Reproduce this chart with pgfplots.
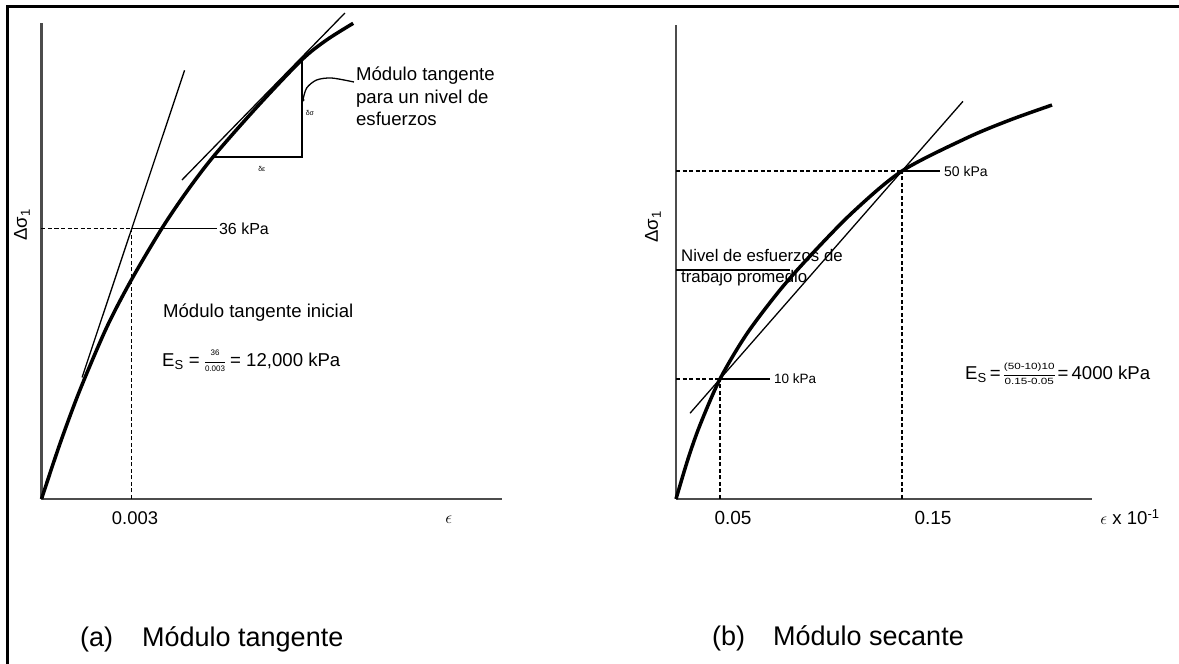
\documentclass[border=0pt]{standalone}
\usepackage{fontspec}
\setmainfont{Liberation Sans}
\usepackage{graphicx}
\usepackage{pgfplots}
\pgfplotsset{compat=1.18}

\newcommand\fs[1]{\fontsize{#1}{#1}\selectfont}
\newcommand\smallfrac[4]{\ensuremath{\vcenter{\offinterlineskip\fs{#3}\halign{\hfil##\hfil\cr\strut #1\cr\noalign{\kern#4\hrule height0.6pt\kern#4}\strut #2\cr}}}}

\pgfplotsset{
  base/.style={scale only axis, axis lines=left,
    axis line style={-, line width=2.6pt, black!70},
    xtick=\empty, ytick=\empty, clip=false, anchor=south west},
  curve/.style={black, line width=3.5pt, smooth},
  thinl/.style={black, line width=1.3pt},
  dashl/.style={black, line width=1.3pt, dash pattern=on 4pt off 2.5pt},
}

\pgfplotstableread{
x y
0 0
0.000615 7.37
0.001281 14.54
0.002169 22.86
0.003 29.26
0.003998 36.0
0.004829 40.93
0.005714 45.59
0.007158 52.17
0.008654 58.47
0.009486 61.14
0.01037 63.36
}\curveA

\pgfplotstableread{
x y
0.02582 -13.08
0.03242 -5.38
0.03901 1.15
0.05 10
0.06467 18.65
0.08297 27.12
0.1000 33.85
0.12308 42.12
0.15 50
0.18555 56.35
0.20934 59.81
0.23242 62.69
}\curveB

\begin{document}
\begin{tikzpicture}[x=1pt,y=1pt]
\useasboundingbox (0,0) rectangle (1179,664);
\draw[line width=3pt, black] (7,0) -- (7,657) -- (1179,657);

% ---------------- (a) Modulo tangente ----------------
\begin{axis}[base, at={(41.5pt,165pt)}, width=460.5pt, height=476pt,
  xmin=0, xmax=0.01532, ymin=0, ymax=63.4]
  \addplot[curve] table {\curveA};
  % initial tangent
  \addplot[thinl] coordinates {(0.00135,16.2) (0.00476,57.1)};
  % tangent at a stress level
  \addplot[thinl] coordinates {(0.004673,42.49) (0.010094,64.73)};
  % triangle
  \addplot[thinl] coordinates {(0.005704,45.55) (0.008664,45.55) (0.008664,58.3)};
  % 36 kPa
  \addplot[dashl] coordinates {(0,36) (0.003,36)};
  \addplot[thinl] coordinates {(0.003,36) (0.005837,36)};
  \addplot[dashl] coordinates {(0.003,0) (0.003,36)};
  % pointer
  \addplot[black, line width=1.3pt, smooth] coordinates {(0.010394,55.54) (0.009653,56.07) (0.009154,55.81) (0.008821,54.74) (0.008697,53.14)};
  \addplot[black, only marks, mark=*, mark size=1.5pt] coordinates {(0.008697,53.14)};

  \node[anchor=west, inner sep=0, font=\fs{16}] at (axis cs:0.00590,36) {36 kPa};
  \node[anchor=west, inner sep=0, font=\fs{18.6}] at (axis cs:0.00404,24.77) {Módulo tangente inicial};
  \node[anchor=west, inner sep=0, font=\fs{18.6}] at (axis cs:0.00401,18.25) {E\textsubscript{S} = \smallfrac{36}{0.003}{8}{3.3pt} = 12,000 kPa};
  \node[anchor=north west, inner sep=0, align=left, font=\fs{18.6}] at (axis cs:0.01046,57.6)
     {Módulo tangente\\[4pt]para un nivel de\\[4pt]esfuerzos};
  \node[inner sep=0, font=\fs{7}] at (axis cs:0.00733,44.0) {δε};
  \node[inner sep=0, font=\fs{7}] at (axis cs:0.00893,51.4) {δσ};
  \node[inner sep=0, font=\fs{18.4}] at (axis cs:0.00311,-2.53) {0.003};
  \node[inner sep=0, font=\fs{18.6}] at (axis cs:0.01355,-2.8) {$\epsilon$};
  \node[inner sep=0, rotate=90, font=\fs{18.6}] at (axis cs:-0.000649,36.49) {Δσ\textsubscript{1}};
  \node[anchor=base west, inner sep=0, font=\fs{27}] at (axis cs:0.00128,-19.58) {(a)};
  \node[anchor=base west, inner sep=0, font=\fs{27}] at (axis cs:0.003343,-19.58) {Módulo tangente};
\end{axis}

% ---------------- (b) Modulo secante ----------------
\begin{axis}[base, at={(676pt,165pt)}, width=416pt, height=474pt,
  xmin=0.02582, xmax=0.2544, ymin=-13.08, ymax=78.08]
  \addplot[curve] table {\curveB};
  % secant
  \addplot[thinl] coordinates {(0.03352,3.41) (0.1835,63.4)};
  % 50 kPa
  \addplot[dashl] coordinates {(0.02582,50) (0.15,50)};
  \addplot[thinl] coordinates {(0.15,50) (0.17088,50)};
  \addplot[dashl] coordinates {(0.15,-13.08) (0.15,50)};
  % 10 kPa
  \addplot[dashl] coordinates {(0.02582,10) (0.05,10)};
  \addplot[thinl] coordinates {(0.05,10) (0.07747,10)};
  \addplot[dashl] coordinates {(0.05,-13.08) (0.05,10)};
  % average working stress level
  \addplot[thinl] coordinates {(0.02582,30.96) (0.08846,30.96)};

  \node[anchor=west, inner sep=0, font=\fs{14}] at (axis cs:0.17308,50) {50 kPa};
  \node[anchor=west, inner sep=0, font=\fs{13.5}] at (axis cs:0.07967,10) {10 kPa};
  \node[anchor=north west, inner sep=0, align=left, font=\fs{16.8}] at (axis cs:0.02857,34.9)
     {Nivel de esfuerzos de\\[4pt]trabajo promedio};
  \node[anchor=west, inner sep=0, font=\fs{18.6}] at (axis cs:0.18462,10.77)
     {E\textsubscript{S}\,=\,\scalebox{1.3}[1]{\smallfrac{(50-10)10}{0.15-0.05}{9}{2.4pt}}\,=\,4000 kPa};
  \node[inner sep=0, font=\fs{19}] at (axis cs:0.05714,-16.73) {0.05};
  \node[inner sep=0, font=\fs{19}] at (axis cs:0.16703,-16.73) {0.15};
  \node[inner sep=0, font=\fs{18.6}] at (axis cs:0.27527,-16.5) {$\epsilon$ x 10\textsuperscript{-1}};
  \node[inner sep=0, rotate=90, font=\fs{18.6}] at (axis cs:0.01319,39.23) {Δσ\textsubscript{1}};
  \node[anchor=base west, inner sep=0, font=\fs{27}] at (axis cs:0.0456,-41.35) {(b)};
  \node[anchor=base west, inner sep=0, font=\fs{27}] at (axis cs:0.07912,-41.35) {Módulo secante};
\end{axis}
\end{tikzpicture}
\end{document}
